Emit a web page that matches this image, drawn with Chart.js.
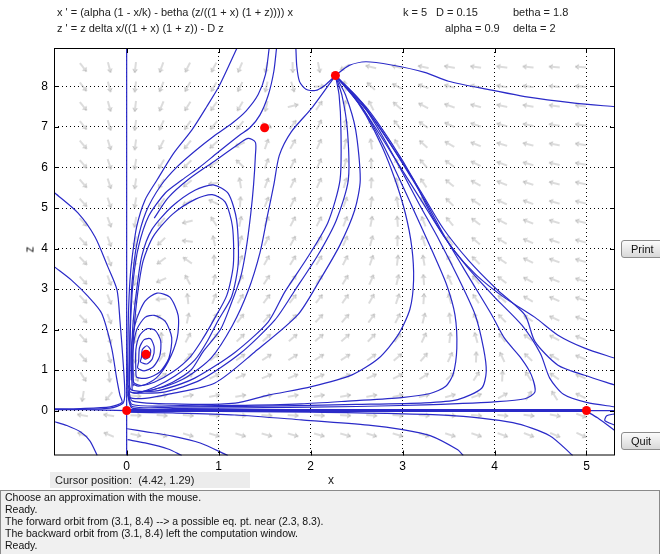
<!DOCTYPE html>
<html>
<head>
<meta charset="utf-8">
<title>pplane</title>
<script src="https://cdn.jsdelivr.net/npm/chart.js@4.4.0/dist/chart.umd.min.js"></script>
<style>
  body { margin: 0; background: #fff; font-family: "Liberation Sans", Arial, sans-serif; }
  #page { position: relative; width: 660px; height: 554px; overflow: hidden; }
  #plot { position: absolute; left: 0; top: 0; }
  .lbl { position: absolute; font-size: 11px; color: #222; white-space: pre; line-height: 13px; }
  #cursor { position: absolute; left: 50px; top: 472px; width: 200px; height: 16px; background: #ececec; }
  #msg { position: absolute; left: 0; top: 490px; width: 658px; height: 64px; background: #f0f0f0; border: 1px solid #8a8a8a; border-bottom: none; }
  #msg div { font-size: 10.5px; line-height: 12px; padding-left: 4px; color: #111; }
  .btn { position: absolute; left: 621px; width: 46px; height: 16px; border: 1px solid #8c8c8c; border-radius: 3px;
         background: linear-gradient(#fbfbfb, #d8d8d8); font-size: 11px; line-height: 16px; text-indent: 9px; color: #111; }
</style>
</head>
<body>
<div id="page">
  <canvas id="plot" width="660" height="554"></canvas>
  <div class="lbl" style="left:57px;top:6px">x ' = (alpha (1 - x/k) - betha (z/((1 + x) (1 + z)))) x</div>
  <div class="lbl" style="left:57px;top:22px">z ' = z delta x/((1 + x) (1 + z)) - D z</div>
  <div class="lbl" style="left:403px;top:6px">k = 5</div>
  <div class="lbl" style="left:436px;top:6px">D = 0.15</div>
  <div class="lbl" style="left:513px;top:6px">betha = 1.8</div>
  <div class="lbl" style="left:445px;top:22px">alpha = 0.9</div>
  <div class="lbl" style="left:513px;top:22px">delta = 2</div>
  <div class="lbl" style="left:27px;top:243px;font-size:12px;transform:rotate(-90deg)">z</div>
  <div id="cursor"></div>
  <div class="lbl" style="left:55px;top:474px">Cursor position:  (4.42, 1.29)</div>
  <div class="lbl" style="left:328px;top:474px;font-size:12px">x</div>
  <div id="msg">
    <div>Choose an approximation with the mouse.</div>
    <div>Ready.</div>
    <div>The forward orbit from (3.1, 8.4) --&gt; a possible eq. pt. near (2.3, 8.3).</div>
    <div>The backward orbit from (3.1, 8.4) left the computation window.</div>
    <div>Ready.</div>
  </div>
  <div class="btn" style="top:240px">Print</div>
  <div class="btn" style="top:432px">Quit</div>
</div>
<script>
// window and ticks
const xRange = [-0.79, 5.31];
const zRange = [-1.11, 8.95];
const xTicks = [0, 1, 2, 3, 4, 5];
const zTicks = [0, 1, 2, 3, 4, 5, 6, 7, 8];

// direction field grid (arrow angles in screen degrees, clockwise from right)
const fieldXs = [-0.475, -0.19, 0.095, 0.38, 0.665, 0.95, 1.235, 1.52, 1.805, 2.09,
                 2.375, 2.66, 2.945, 3.23, 3.515, 3.8, 4.085, 4.37, 4.655, 4.94];
const fieldZs = [8.48, 8.00, 7.52, 7.05, 6.57, 6.09, 5.61, 5.14, 4.66, 4.18,
                 3.70, 3.22, 2.75, 2.27, 1.79, 1.31, 0.84, 0.36, -0.12, -0.60];
const fieldAngles = [
  [52, 75, 97, 110, 117, 118, 113, 103, 89, 79, 150, -166, -166, -168, -170, -172, -173, -174, -175, -176],
  [52, 75, 97, 112, 119, 121, 116, 103, 73, -3, -98, -137, -152, -160, -165, -169, -171, -172, -174, -175],
  [51, 74, 97, 113, 122, 125, 121, 103, -14, -56, -84, -117, -139, -152, -160, -165, -168, -170, -172, -173],
  [51, 73, 98, 115, 125, 130, 130, 30, -53, -63, -80, -106, -128, -145, -155, -161, -165, -168, -171, -172],
  [50, 73, 98, 117, 129, 138, 155, -71, -61, -66, -77, -98, -119, -138, -150, -158, -163, -166, -169, -171],
  [49, 72, 99, 120, 135, 151, -137, -70, -63, -66, -75, -92, -112, -131, -145, -154, -160, -164, -167, -170],
  [49, 72, 99, 122, 142, 172, -99, -69, -64, -66, -73, -87, -105, -124, -140, -151, -158, -162, -166, -168],
  [48, 71, 100, 126, 152, -154, -86, -68, -63, -65, -71, -83, -99, -118, -135, -147, -155, -160, -164, -167],
  [48, 70, 100, 130, 166, -122, -78, -66, -62, -63, -68, -79, -94, -112, -130, -143, -152, -158, -163, -166],
  [47, 70, 101, 136, -173, -102, -73, -64, -61, -61, -66, -75, -89, -107, -125, -139, -149, -156, -161, -165],
  [47, 69, 102, 144, -145, -89, -68, -61, -58, -59, -63, -71, -83, -100, -119, -135, -146, -154, -160, -164],
  [47, 69, 103, 156, -118, -78, -64, -57, -55, -56, -59, -66, -77, -94, -113, -130, -143, -152, -158, -162],
  [47, 68, 104, 176, -96, -70, -58, -53, -51, -52, -55, -61, -71, -86, -106, -124, -139, -149, -156, -161],
  [47, 69, 104, -146, -78, -60, -52, -48, -46, -47, -49, -54, -63, -76, -96, -117, -134, -146, -155, -160],
  [48, 70, 103, -93, -62, -50, -44, -41, -40, -40, -42, -46, -53, -65, -83, -106, -127, -143, -152, -159],
  [50, 73, 96, -55, -46, -39, -35, -33, -32, -32, -33, -36, -41, -50, -65, -88, -115, -136, -150, -158],
  [57, 84, 59, -32, -29, -26, -23, -22, -22, -22, -23, -24, -27, -32, -41, -57, -87, -123, -145, -156],
  [99, 130, 5, -12, -12, -11, -10, -10, -10, -10, -10, -11, -12, -13, -16, -20, -29, -58, -122, -154],
  [-170, -171, 1, 4, 4, 4, 3, 3, 3, 3, 3, 4, 4, 4, 4, 5, 6, 7, 11, 20],
  [-157, -157, 13, 17, 17, 17, 17, 16, 16, 16, 16, 17, 17, 17, 18, 19, 20, 21, 23, 25]
];

// equilibrium points
const eqX = [0, 5, 0.21, 1.5, 2.27];
const eqZ = [0, 0, 1.39, 6.98, 8.27];

// orbits as [x, z]
const orbitZAxis = [[0, -1.11], [0, 8.95]];
const orbitXAxis = [[0, 0], [5, 0]];
const orbitXAxisRight = [[5, 0], [5.31, 0]];
const orbitLeftExit = [[-0.79, 0.03], [-0.45, 0.02], [0, 0]];
const orbitL1 = [[-0.78, 5.37], [-0.53, 4.88], [-0.345, 4.29], [-0.203, 3.54], [-0.105, 2.98], [-0.073, 2.23],
  [-0.04, 1.25], [-0.02, 0.45], [-0.04, 0.18], [-0.18, 0.06], [-0.5, 0.03], [-0.79, 0.02]];
const orbitL2 = [[-0.78, 3.54], [-0.6, 3.22], [-0.417, 2.81], [-0.272, 2.4], [-0.163, 1.54], [-0.109, 0.8],
  [-0.073, 0.38], [-0.05, 0.2], [-0.18, 0.09], [-0.5, 0.05], [-0.79, 0.04]];
const orbitLB = [[-0.79, -0.27], [-0.65, -0.37], [-0.5, -0.53], [-0.4, -0.75], [-0.32, -1.11]];
const orbitB1 = [[0.01, -0.72], [0.2, -0.8], [0.45, -0.95], [0.6, -1.11]];
const orbitB2 = [[0.005, -0.45], [0.2, -0.52], [0.5, -0.63], [0.8, -0.8], [1.1, -1.11]];
const orbitB3 = [[0.005, -0.04], [0.5, -0.06], [1.18, -0.11], [1.9, -0.23], [2.63, -0.36], [3.0, -0.47],
  [3.3, -0.62], [3.6, -0.97], [3.66, -1.11]];
const orbitB4 = [[0.005, -0.015], [2.0, -0.04], [3.5, -0.12], [4.2, -0.3], [4.6, -0.62], [4.85, -1.11]];
const orbitB5 = [[5.0, -0.02], [5.12, -0.18], [5.31, -0.5]];
const orbitB6 = [[5.31, -0.08], [5.22, -0.13], [5.2, -0.25], [5.31, -0.36]];
const orbitC1 = [[1.2, 8.95], [1.01, 8.03], [0.87, 7.5], [0.71, 6.93], [0.51, 6.35], [0.33, 5.69], [0.2, 5.2],
  [0.109, 4.54], [0.061, 3.8], [0.036, 3.22], [0.02, 2.4], [0.013, 1.4], [0.012, 0.6], [0.03, 0.33], [0.2, 0.3],
  [0.47, 0.41], [0.96, 0.68], [1.39, 1.44], [1.86, 2.36], [2.1, 3.22], [2.32, 4.09], [2.48, 4.95], [2.54, 5.69],
  [2.49, 6.93], [2.38, 7.79], [2.27, 8.27]];
const orbitT1 = [[1.63, 8.95], [1.6, 8.37], [1.54, 7.79], [1.45, 7.3], [1.34, 6.98], [1.23, 6.8], [0.98, 6.35],
  [0.8, 6.02], [0.6, 5.69], [0.42, 5.37], [0.24, 4.8], [0.127, 4.03], [0.072, 3.22], [0.047, 2.4], [0.035, 1.5],
  [0.03, 0.8], [0.045, 0.52], [0.2, 0.47], [0.38, 0.51], [0.74, 0.8], [1.18, 1.44], [1.54, 2.19], [1.72, 2.93],
  [1.97, 3.79], [2.19, 4.65], [2.32, 5.69], [2.33, 6.93], [2.31, 7.79], [2.27, 8.27]];
const orbitT2 = [[1.55, 8.95], [1.51, 8.3], [1.43, 7.8], [1.3, 7.4], [1.15, 7.1], [0.95, 6.78], [0.75, 6.42],
  [0.55, 6.02], [0.37, 5.55], [0.21, 4.9], [0.11, 4.1], [0.06, 3.2], [0.04, 2.3], [0.03, 1.4], [0.025, 0.7],
  [0.04, 0.46], [0.2, 0.43], [0.42, 0.46], [0.8, 0.75], [1.23, 1.4], [1.61, 2.23], [1.83, 2.97], [2.08, 3.84],
  [2.28, 4.7], [2.41, 5.69], [2.4, 6.93], [2.34, 7.79], [2.27, 8.27]];
const orbitU = [[1.84, 8.95], [1.85, 8.5], [1.88, 8.12], [1.95, 7.93], [2.05, 7.9], [2.15, 8.02], [2.27, 8.27]];
const orbitH2 = [[0.3, 4.75], [0.45, 5.25], [0.68, 5.72], [0.95, 6.15], [1.18, 6.52], [1.32, 6.72], [1.4, 6.62],
  [1.4, 6.3], [1.38, 5.57], [1.35, 4.87], [1.3, 4.0], [1.24, 3.3], [1.13, 2.6], [1.02, 2.0], [0.83, 1.45],
  [0.7, 1.0], [0.5, 0.7], [0.3, 0.52], [0.12, 0.45]];
const orbitH3 = [[0.15, 0.45], [0.4, 0.58], [0.65, 0.82], [0.92, 1.3], [1.15, 2.1], [1.32, 2.95], [1.45, 3.9],
  [1.53, 4.8], [1.6, 5.57], [1.66, 6.3], [1.79, 6.88], [2.01, 7.46], [2.27, 8.27]];
const orbitLoop1 = [[0.06, 0.5], [0.05, 1.2], [0.06, 1.8], [0.072, 2.23], [0.109, 2.98], [0.163, 3.8], [0.272, 4.46],
  [0.489, 5.03], [0.742, 5.44], [0.941, 5.57], [1.104, 5.36], [1.196, 4.7], [1.213, 3.63], [1.141, 2.81],
  [0.996, 2.23], [0.884, 1.74], [0.742, 1.25], [0.525, 0.85], [0.308, 0.58], [0.112, 0.43], [0.047, 0.45]];
const orbitLoop2 = [[0.07, 0.6], [0.065, 1.3], [0.08, 2.0], [0.12, 2.9], [0.18, 3.7], [0.29, 4.3], [0.5, 4.85],
  [0.75, 5.22], [0.93, 5.33], [1.07, 5.15], [1.15, 4.55], [1.16, 3.6], [1.09, 2.85], [0.95, 2.25], [0.83, 1.78],
  [0.69, 1.32], [0.5, 0.95], [0.3, 0.7], [0.13, 0.6], [0.07, 0.65]];
const orbitSpiral = [[0.05, 0.75], [0.05, 1.5], [0.1, 2.2], [0.2, 2.7], [0.33, 2.9], [0.47, 2.8], [0.56, 2.35],
  [0.55, 1.8], [0.45, 1.2], [0.32, 0.8], [0.17, 0.62], [0.08, 0.68],
  [0.07, 0.9], [0.07, 1.5], [0.11, 2.0], [0.2, 2.3], [0.3, 2.35], [0.42, 2.2], [0.49, 1.8], [0.46, 1.3],
  [0.36, 0.95], [0.22, 0.8], [0.11, 0.82],
  [0.1, 1.0], [0.1, 1.5], [0.14, 1.85], [0.22, 2.02], [0.31, 1.98], [0.37, 1.72], [0.36, 1.35], [0.29, 1.08],
  [0.19, 0.98], [0.12, 1.05],
  [0.13, 1.2], [0.14, 1.55], [0.19, 1.75], [0.26, 1.77], [0.3, 1.55], [0.28, 1.28], [0.22, 1.15], [0.15, 1.2],
  [0.16, 1.3], [0.17, 1.5], [0.22, 1.6], [0.26, 1.5], [0.25, 1.33], [0.2, 1.27], [0.17, 1.35],
  [0.2, 1.45], [0.22, 1.42]];
const orbitR1 = [[0.02, 0.62], [0.06, 0.24], [0.6, 0.16], [1.18, 0.185], [1.54, 0.38], [2.01, 0.59], [2.45, 0.88],
  [2.74, 1.29], [2.95, 1.86], [3.08, 2.5], [3.12, 3.22], [3.1, 4.04], [3.03, 4.87], [2.92, 5.69], [2.78, 6.5],
  [2.6, 7.3], [2.42, 7.9], [2.27, 8.27]];
const orbitRa = [[0.015, 0.5], [0.06, 0.15], [0.6, 0.12], [1.18, 0.125], [1.9, 0.165], [2.45, 0.24], [2.99, 0.32],
  [3.3, 0.42], [3.47, 0.6], [3.55, 0.9], [3.59, 1.54], [3.57, 2.36], [3.48, 3.1], [3.33, 3.9], [3.15, 4.8],
  [2.97, 5.7], [2.78, 6.6], [2.57, 7.45], [2.27, 8.27]];
const orbitRb = [[0.012, 0.45], [0.06, 0.1], [0.6, 0.09], [1.5, 0.11], [2.5, 0.15], [3.24, 0.19], [3.6, 0.27],
  [3.86, 0.55], [3.91, 0.96], [3.88, 1.54], [3.79, 2.36], [3.6, 3.3], [3.4, 4.2], [3.18, 5.1], [2.97, 6.0],
  [2.75, 6.9], [2.52, 7.7], [2.27, 8.27]];
const orbitRc = [[0.01, 0.4], [0.06, 0.06], [0.6, 0.055], [1.5, 0.07], [2.5, 0.1], [3.24, 0.14], [3.6, 0.17],
  [3.97, 0.21], [4.33, 0.29], [4.44, 0.46], [4.4, 0.88], [4.29, 1.29], [4.11, 1.78], [3.97, 2.36], [3.72, 3.3],
  [3.46, 4.29], [3.24, 5.2], [3.1, 5.73], [2.92, 6.39], [2.73, 7.05], [2.55, 7.62], [2.37, 8.03], [2.27, 8.27]];
const orbitRe1 = [[5.31, 1.29], [4.98, 1.54], [4.69, 1.86], [4.44, 2.3], [4.1, 2.8], [3.8, 3.35], [3.55, 3.98],
  [3.32, 4.8], [3.12, 5.7], [2.88, 6.6], [2.6, 7.5], [2.27, 8.27]];
const orbitRe2 = [[5.31, 0.63], [4.98, 0.87], [4.69, 1.12], [4.44, 1.7], [4.33, 2.36], [4.02, 3.0], [3.72, 3.7],
  [3.44, 4.5], [3.2, 5.4], [2.95, 6.3], [2.65, 7.3], [2.27, 8.27]];
const orbitRe3 = [[5.31, 0.09], [5.0, 0.2], [4.75, 0.4], [4.6, 0.8], [4.5, 1.4], [4.3, 2.1], [4.0, 2.8],
  [3.7, 3.55], [3.45, 4.3], [3.2, 5.2], [2.95, 6.1], [2.7, 7.0], [2.47, 7.75], [2.27, 8.27]];
const orbitTR = [[2.27, 8.27], [2.42, 8.52], [2.6, 8.61], [2.88, 8.53], [3.24, 8.35], [3.5, 8.13], [3.97, 7.91],
  [4.33, 7.75], [4.87, 7.59], [5.31, 7.5]];

const orbits = [orbitZAxis, orbitXAxisRight, orbitLeftExit, orbitL1, orbitL2, orbitLB, orbitB1, orbitB2,
  orbitB3, orbitB4, orbitB5, orbitB6, orbitC1, orbitT1, orbitT2, orbitU, orbitH2, orbitH3, orbitLoop1,
  orbitLoop2, orbitSpiral, orbitR1, orbitRa, orbitRb, orbitRc, orbitRe1, orbitRe2, orbitRe3, orbitTR];

const orbitBlue = '#2a2ac8';
const toPts = arr => arr.map(([x, z]) => ({ x: x, y: z }));

// small grey arrow used as point style
const arrow = document.createElement('canvas');
arrow.width = 14;
arrow.height = 14;
const actx = arrow.getContext('2d');
actx.strokeStyle = '#b9b9b9';
actx.lineWidth = 1;
actx.beginPath();
actx.moveTo(2, 7); actx.lineTo(12.5, 7);
actx.moveTo(12.5, 7); actx.lineTo(9, 4.8);
actx.moveTo(12.5, 7); actx.lineTo(9, 9.2);
actx.stroke();

const fieldPts = [];
fieldZs.forEach((z, j) => fieldXs.forEach((x, i) => fieldPts.push({ x: x, y: z, a: fieldAngles[j][i] })));

const datasets = [];
datasets.push({
  data: eqX.map((x, i) => ({ x: x, y: eqZ[i] })),
  pointRadius: 4.5, pointBackgroundColor: '#ff0000', pointBorderWidth: 0, showLine: false, order: 0
});
datasets.push({
  data: toPts(orbitXAxis), showLine: true, pointRadius: 0, borderColor: orbitBlue, borderWidth: 3, order: 1
});
orbits.forEach(o => datasets.push({
  data: toPts(o), showLine: true, pointRadius: 0, borderColor: orbitBlue, borderWidth: 1.2,
  tension: 0.25, order: 1
}));
datasets.push({
  data: fieldPts, showLine: false, pointStyle: arrow, pointRadius: 6,
  rotation: c => (c.raw ? c.raw.a : 0), order: 2
});

const framePlugin = {
  id: 'frame',
  afterDraw(chart) {
    const { ctx, chartArea: a, scales } = chart;
    ctx.save();
    ctx.strokeStyle = '#000';
    ctx.lineWidth = 1;
    ctx.strokeRect(a.left + 0.5, a.top + 0.5, a.right - a.left - 1, a.bottom - a.top - 1);
    ctx.beginPath();
    xTicks.forEach(v => {
      const px = Math.round(scales.x.getPixelForValue(v)) + 0.5;
      ctx.moveTo(px, a.bottom); ctx.lineTo(px, a.bottom - 5);
      ctx.moveTo(px, a.top); ctx.lineTo(px, a.top + 5);
    });
    zTicks.forEach(v => {
      const py = Math.round(scales.y.getPixelForValue(v)) + 0.5;
      ctx.moveTo(a.left, py); ctx.lineTo(a.left + 5, py);
      ctx.moveTo(a.right, py); ctx.lineTo(a.right - 5, py);
    });
    ctx.stroke();
    ctx.restore();
  }
};

const tickFont = { family: '"Liberation Sans", Arial, sans-serif', size: 12 };

new Chart(document.getElementById('plot'), {
  type: 'scatter',
  data: { datasets: datasets },
  options: {
    responsive: false,
    animation: false,
    events: [],
    layout: { padding: { left: 0, top: 48, right: 45, bottom: 68.5 } },
    plugins: { legend: { display: false }, tooltip: { enabled: false } },
    scales: {
      x: {
        type: 'linear', min: xRange[0], max: xRange[1],
        afterBuildTicks: s => { s.ticks = xTicks.map(v => ({ value: v })); },
        afterFit: s => { s.height = 30; },
        ticks: { color: '#000', font: tickFont, padding: 4, callback: v => String(v) },
        grid: { color: '#000', lineWidth: 1, drawTicks: false },
        border: { display: false, dash: [1, 3] }
      },
      y: {
        type: 'linear', min: zRange[0], max: zRange[1],
        afterBuildTicks: s => { s.ticks = zTicks.map(v => ({ value: v })); },
        afterFit: s => { s.width = 54; },
        ticks: { color: '#000', font: tickFont, padding: 6, callback: v => String(v) },
        grid: { color: '#000', lineWidth: 1, drawTicks: false },
        border: { display: false, dash: [1, 3] }
      }
    }
  },
  plugins: [framePlugin]
});
</script>
</body>
</html>
